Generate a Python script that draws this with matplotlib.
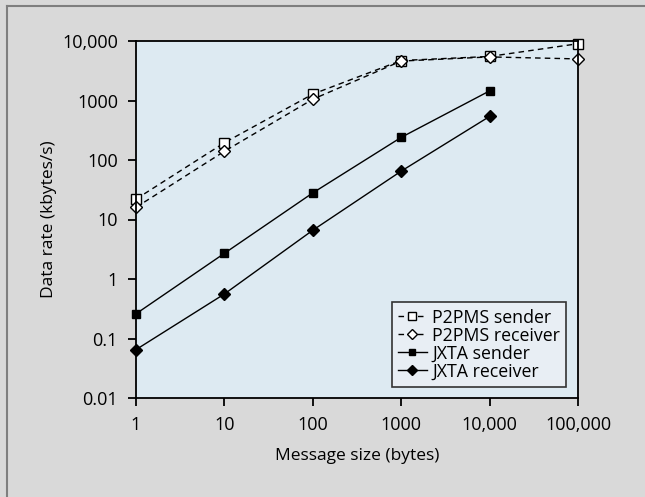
import matplotlib.pyplot as plt
from matplotlib.lines import Line2D
from matplotlib.ticker import FixedLocator, FixedFormatter, NullLocator

plt.rcParams['font.family'] = ['Open Sans', 'DejaVu Sans']

# Data
msg_sizes = [1, 10, 100, 1000, 10000, 100000]
p2pms_sender = [22, 195, 1280, 4700, 5500, 9000]
p2pms_receiver = [16, 140, 1050, 4600, 5400, 5000]
jxta_sizes = [1, 10, 100, 1000, 10000]
jxta_sender = [0.26, 2.7, 28, 240, 1450]
jxta_receiver = [0.065, 0.56, 6.6, 65, 540]

x_ticks = [1, 10, 100, 1000, 10000, 100000]
x_labels = ['1', '10', '100', '1000', '10,000', '100,000']
y_ticks = [0.01, 0.1, 1, 10, 100, 1000, 10000]
y_labels = ['0.01', '0.1', '1', '10', '100', '1000', '10,000']

fig = plt.figure(figsize=(6.45, 4.97), dpi=100, facecolor='#d9d9d9')
ax = fig.add_axes([136 / 645, 1 - 398 / 497, (578 - 136) / 645, (398 - 41) / 497])
ax.set_facecolor('#ddeaf2')

# frame lines at top and left of the figure
fig.add_artist(Line2D([7 / 645, 1], [1 - 6 / 497, 1 - 6 / 497], color='#7f7f7f', lw=1.5))
fig.add_artist(Line2D([7 / 645, 7 / 645], [0, 1 - 6 / 497], color='#7f7f7f', lw=1.5))

ax.plot(msg_sizes, p2pms_sender, ls=(0, (4, 3)), color='black', lw=1,
        marker='s', ms=6.5, mfc='white', mec='black', mew=1, label='P2PMS sender', clip_on=False)
ax.plot(msg_sizes, p2pms_receiver, ls=(0, (4, 3)), color='black', lw=1,
        marker='D', ms=6.5, mfc='white', mec='black', mew=1, label='P2PMS receiver', clip_on=False)
ax.plot(jxta_sizes, jxta_sender, ls='-', color='black', lw=1,
        marker='s', ms=6, mfc='black', mec='black', label='JXTA sender', clip_on=False)
ax.plot(jxta_sizes, jxta_receiver, ls='-', color='black', lw=1,
        marker='D', ms=6, mfc='black', mec='black', label='JXTA receiver', clip_on=False)

ax.set_xscale('log')
ax.set_yscale('log')
ax.set_xlim(1, 100000)
ax.set_ylim(0.01, 10000)

ax.xaxis.set_major_locator(FixedLocator(x_ticks))
ax.xaxis.set_major_formatter(FixedFormatter(x_labels))
ax.xaxis.set_minor_locator(NullLocator())
ax.yaxis.set_major_locator(FixedLocator(y_ticks))
ax.yaxis.set_major_formatter(FixedFormatter(y_labels))
ax.yaxis.set_minor_locator(NullLocator())
ax.tick_params(axis='both', direction='out', length=6, width=1.3, labelsize=13, pad=7)

for s in ax.spines.values():
    s.set_linewidth(1.3)

ax.set_xlabel('Message size (bytes)', fontsize=12.5, labelpad=10)
ax.set_ylabel('Data rate (kbytes/s)', fontsize=12.5, labelpad=4)

leg = ax.legend(loc='lower right', bbox_to_anchor=(0.973, 0.031), borderaxespad=0,
                fontsize=12.8, handlelength=1.6, handletextpad=0.3, labelspacing=0.0,
                borderpad=0.35, fancybox=False, framealpha=1, markerscale=0.8)
leg.get_frame().set_facecolor('#e8eef4')
leg.get_frame().set_edgecolor('#333333')
leg.get_frame().set_linewidth(1.2)

fig.savefig('out.png', dpi=100, facecolor=fig.get_facecolor())
